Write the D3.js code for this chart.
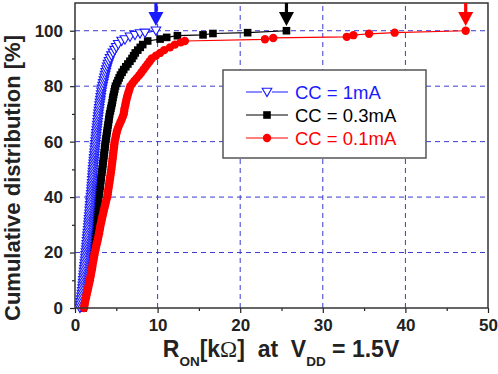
<!DOCTYPE html>
<html><head><meta charset="utf-8">
<script src="https://cdn.jsdelivr.net/npm/d3@7"></script>
<style>body{margin:0;background:#fff}svg{display:block}text{font-family:Arial,"Liberation Sans",sans-serif}</style>
</head><body><svg id="c" width="498" height="374"></svg>
<script>
// Cumulative distribution data: R_ON [kΩ] values and cumulative %
const blueR = [0.6,0.65,0.7,0.75,0.8,0.84,0.88,0.92,0.95,0.98,1.0,1.04,1.07,1.1,1.13,1.17,1.2,1.24,1.27,1.3,1.33,1.37,1.4,1.43,1.46,1.49,1.52,1.56,1.6,1.62,1.65,1.68,1.7,1.73,1.76,1.79,1.82,1.85,1.88,1.91,1.94,1.97,2.0,2.02,2.05,2.08,2.1,2.13,2.15,2.18,2.2,2.23,2.26,2.29,2.32,2.35,2.38,2.41,2.44,2.47,2.5,2.54,2.57,2.6,2.64,2.68,2.71,2.75,2.78,2.82,2.85,2.9,2.94,2.98,3.03,3.08,3.12,3.17,3.22,3.28,3.35,3.42,3.5,3.57,3.65,3.72,3.8,3.9,4.0,4.12,4.25,4.42,4.6,4.8,5.0,5.24,5.65,6.05,6.66,7.26,7.87,8.47,9.8];
const blueP = [0,1,2,3,4,5,6,7,8,9,10,11,12,13,14,15,16,17,18,19,20,21,22,23,24,25,26,27,28,29,30,31,32,33,34,35,36,37,38,39,40,41,42,43,44,45,46,47,48,49,50,51,52,53,54,55,56,57,58,59,60,61,62,63,64,65,66,67,68,69,70,71,72,73,74,75,76,77,78,79,80,81,82,83,84,85,86,87,88,89,90,91,92,93,94,95.1,96.3,96.8,97.8,98.4,99.0,99.2,100];
const blackR = [1.0,1.02,1.05,1.08,1.1,1.15,1.2,1.25,1.3,1.35,1.4,1.45,1.5,1.54,1.58,1.62,1.66,1.7,1.75,1.8,1.85,1.9,1.95,2.0,2.05,2.1,2.15,2.2,2.25,2.3,2.35,2.4,2.45,2.5,2.55,2.6,2.65,2.7,2.75,2.8,2.85,2.9,2.95,3.0,3.05,3.08,3.12,3.16,3.2,3.25,3.3,3.34,3.38,3.42,3.46,3.5,3.54,3.58,3.62,3.66,3.7,3.75,3.8,3.85,3.9,3.95,4.0,4.05,4.1,4.15,4.2,4.28,4.35,4.42,4.5,4.55,4.6,4.68,4.75,4.82,4.9,5.05,5.2,5.35,5.5,5.7,5.9,6.15,6.4,6.65,6.9,7.1,7.3,7.6,7.9,8.2,8.8,10.3,11.1,12.4,15.5,16.7,20.9,25.6];
const blackP = [0,1,2,3,4,5,6,7,8,9,10,11,12,13,14,15,16,17,18,19,20,21,22,23,24,25,26,27,28,29,30,31,32,33,34,35,36,37,38,39,40,41,42,43,44,45,46,47,48,49,50,51,52,53,54,55,56,57,58,59,60,61,62,63,64,65,66,67,68,69,70,71,72,73,74,75,76,77,78,79,80,81,82,83,84,85,86,87,88,89,90,91,92,93,94,95,96.3,97.0,97.6,98.2,98.5,99.0,99.3,100];
const redR = [1.1,1.15,1.2,1.28,1.35,1.42,1.5,1.58,1.65,1.72,1.8,1.86,1.92,1.98,2.05,2.1,2.15,2.22,2.28,2.34,2.4,2.48,2.55,2.62,2.7,2.78,2.85,2.92,2.98,3.04,3.1,3.18,3.25,3.32,3.4,3.48,3.55,3.64,3.72,3.8,3.9,3.95,4.0,4.05,4.1,4.15,4.2,4.25,4.3,4.35,4.4,4.44,4.48,4.52,4.56,4.6,4.64,4.68,4.72,4.76,4.8,4.88,4.95,5.02,5.1,5.22,5.35,5.5,5.65,5.78,5.9,5.95,6.0,6.08,6.15,6.22,6.3,6.4,6.5,6.6,6.7,6.95,7.2,7.5,7.8,8.05,8.3,8.55,8.8,9.05,9.3,9.8,10.3,10.8,11.5,12.1,12.8,13.3,23.0,24.0,32.9,33.7,35.6,38.7,47.3];
const redP = [0,1,2,3,4,5,6,7,8,9,10,11,12,13,14,15,16,17,18,19,20,21,22,23,24,25,26,27,28,29,30,31,32,33,34,35,36,37,38,39,40,41,42,43,44,45,46,47,48,49,50,51,52,53,54,55,56,57,58,59,60,61,62,63,64,65,66,67,68,69,70,71,72,73,74,75,76,77,78,79,80,81,82,83,84,85,86,87,88,89,90,91,92,93,94,95,95.8,96.3,96.9,97.4,97.8,98.4,98.9,99.3,100];
const seriesNames = ["CC = 1mA","CC = 0.3mA","CC = 0.1mA"];
const seriesColors = ["#1a1aff","#000000","#ff0000"];
const xTicks = [0,10,20,30,40,50];
const yTicks = [0,20,40,60,80,100];
const arrowR = [9.8,25.6,47.3];

const svg = d3.select("#c");
const x = d3.scaleLinear().domain([0,50]).range([75,488]);
const y = d3.scaleLinear().domain([0,110]).range([308,3]);

// grid
const grid = svg.append("g").attr("stroke","#3a3ad0").attr("stroke-width",1).attr("stroke-dasharray","5,4");
[10,20,30,40].forEach(v=>grid.append("line").attr("x1",x(v)).attr("x2",x(v)).attr("y1",y(0)).attr("y2",y(110)));
[20,40,60,80,100].forEach(v=>grid.append("line").attr("x1",x(0)).attr("x2",x(50)).attr("y1",y(v)).attr("y2",y(v)));

// axes
const xAxis = d3.axisBottom(x).tickValues(xTicks).tickSize(5).tickPadding(6).tickFormat(d3.format("d"));
const xMinor = d3.axisBottom(x).tickValues([5,15,25,35,45]).tickSize(3).tickFormat("");
const yAxis = d3.axisLeft(y).tickValues(yTicks).tickSize(5).tickPadding(7).tickFormat(d3.format("d"));
const yMinor = d3.axisLeft(y).tickValues([10,30,50,70,90]).tickSize(3).tickFormat("");
function styleAx(g){g.select(".domain").remove();g.selectAll("line").attr("stroke","#222").attr("stroke-width",1.2);g.selectAll("text").attr("font-size","17px").attr("font-weight","bold").attr("fill","#222").attr("font-family","Arial, 'Liberation Sans', sans-serif");}
svg.append("g").attr("transform",`translate(0,${y(0)})`).call(xAxis).call(styleAx);
svg.append("g").attr("transform",`translate(0,${y(0)})`).call(xMinor).call(styleAx);
svg.append("g").attr("transform",`translate(${x(0)},0)`).call(yAxis).call(styleAx);
svg.append("g").attr("transform",`translate(${x(0)},0)`).call(yMinor).call(styleAx);

// data
const data = [
  {r:blueR,p:blueP,c:seriesColors[0],m:"tri"},
  {r:blackR,p:blackP,c:seriesColors[1],m:"sq"},
  {r:redR,p:redP,c:seriesColors[2],m:"circ"}
];
const line = d3.line().x(d=>x(d[0])).y(d=>y(d[1]));
function marker(g,type,c){
  if(type==="tri") g.append("path").attr("d","M-4.8,-3.8L4.8,-3.8L0,4.6Z").attr("fill","#fff").attr("stroke",c).attr("stroke-width",1.1);
  else if(type==="sq") g.append("rect").attr("x",-3.8).attr("y",-3.8).attr("width",7.6).attr("height",7.6).attr("fill",c);
  else g.append("circle").attr("r",4.2).attr("fill",c);
}
const order=[1,0,2];
order.forEach(i=>{
  const s=data[i];
  const pts=s.r.map((v,k)=>[v,s.p[k]]);
  const g=svg.append("g");
  g.append("path").attr("d",line(pts)).attr("fill","none").attr("stroke",s.c).attr("stroke-width",1.2);
  pts.forEach(pt=>{const mg=g.append("g").attr("transform",`translate(${x(pt[0])},${y(pt[1])})`);marker(mg,s.m,s.c);});
});

// frame
svg.append("rect").attr("x",x(0)).attr("y",y(110)).attr("width",x(50)-x(0)).attr("height",y(0)-y(110)).attr("fill","none").attr("stroke","#333").attr("stroke-width",1.5);

// arrows
arrowR.forEach((v,i)=>{
  const cx=x(v);
  svg.append("path").attr("d",`M${cx-1.6},3 L${cx+1.6},3 L${cx+1.6},12 L${cx+7.5},12 L${cx},26 L${cx-7.5},12 L${cx-1.6},12 Z`).attr("fill",seriesColors[i]);
});

// legend
const lg=svg.append("g");
lg.append("rect").attr("x",223).attr("y",70).attr("width",203).attr("height",88).attr("fill","#fff").attr("stroke","#555").attr("stroke-width",1.5);
seriesNames.forEach((n,i)=>{
  const yy=92+i*23;
  lg.append("line").attr("x1",246).attr("x2",288).attr("y1",yy).attr("y2",yy).attr("stroke",seriesColors[i]).attr("stroke-width",1.2);
  const mg=lg.append("g").attr("transform",`translate(267,${yy})`);
  if(i===0){mg.append("rect").attr("x",-5).attr("y",-5).attr("width",10).attr("height",10).attr("fill","#fff");}
  marker(mg,data[i].m,seriesColors[i]);
  lg.append("text").attr("x",295).attr("y",yy+6.5).attr("font-size","18.5px").attr("fill",seriesColors[i]).text(n);
});

// axis titles
svg.append("text").attr("transform","translate(20,178) rotate(-90)").attr("text-anchor","middle").attr("font-size","22px").attr("font-weight","bold").attr("fill","#222").text("Cumulative distribution [%]");
const xt=svg.append("text").attr("x",281).attr("y",357).attr("text-anchor","middle").attr("font-size","23px").attr("font-weight","bold").attr("fill","#222").style("white-space","pre");
xt.append("tspan").text("R");
xt.append("tspan").attr("dy",9).attr("font-size","13.5px").text("ON");
xt.append("tspan").attr("dy",-9).text("[k");
xt.append("tspan").attr("font-family","'Liberation Serif','Times New Roman',serif").attr("font-weight","normal").text("\u03A9");
xt.append("tspan").text("]  at  V");
xt.append("tspan").attr("dy",9).attr("font-size","13.5px").text("DD");
xt.append("tspan").attr("dy",-9).text(" = 1.5V");
</script></body></html>
